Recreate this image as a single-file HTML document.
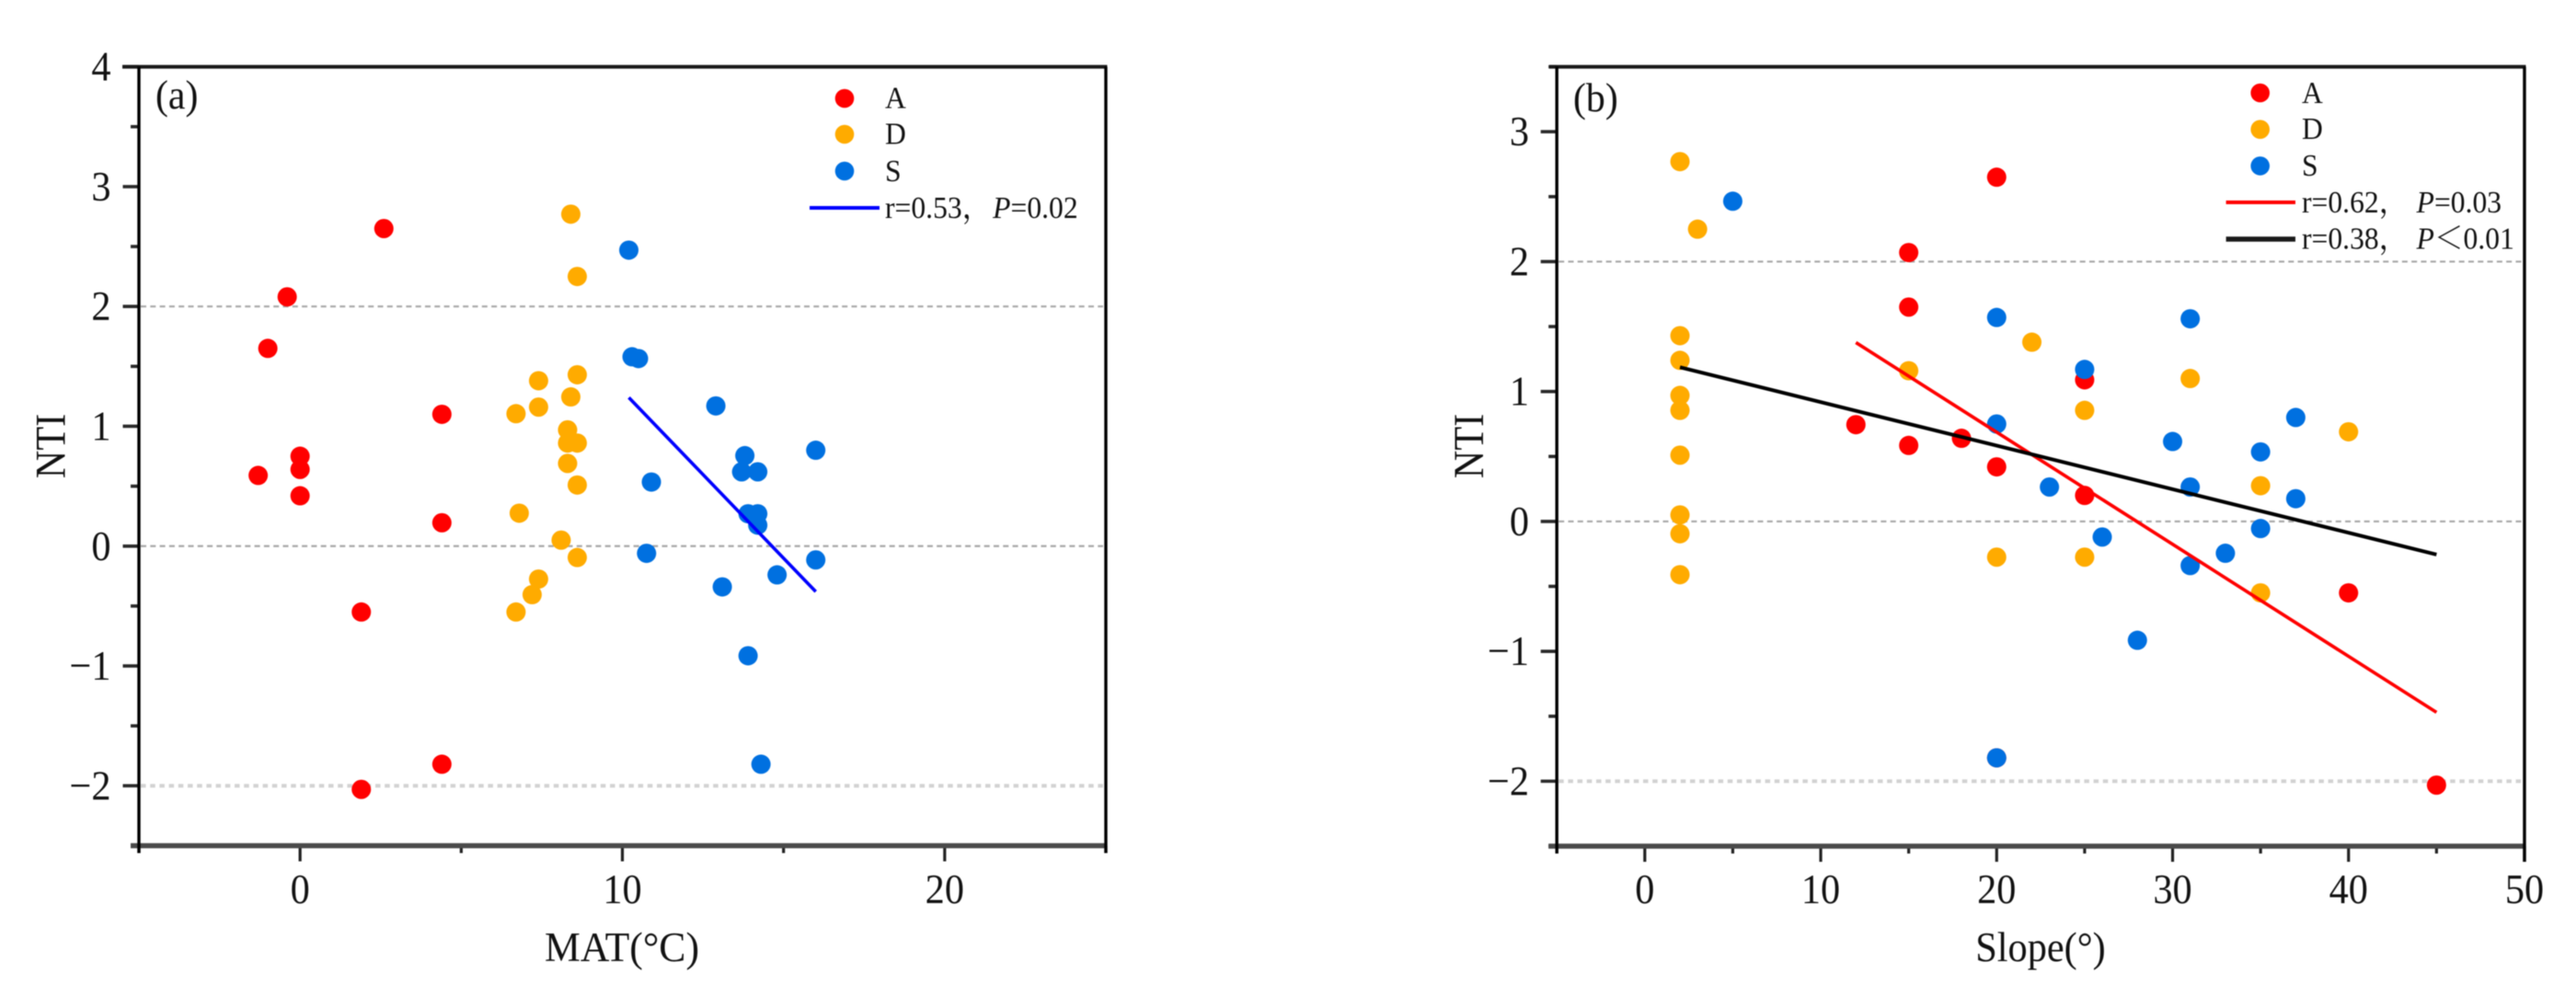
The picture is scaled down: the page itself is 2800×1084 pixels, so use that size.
<!DOCTYPE html>
<html lang="en">
<head>
<meta charset="utf-8">
<title>NTI versus MAT and Slope</title>
<style>
html,body{margin:0;padding:0;background:#fff;}
svg{display:block;filter:blur(.5px);}
text{font-family:"Liberation Serif","Noto Serif CJK SC",serif;fill:#111;}
</style>
</head>
<body>
<svg id="figure" width="2800" height="1084" viewBox="0 0 2800 1084" xmlns="http://www.w3.org/2000/svg">
  <rect width="2800" height="1084" fill="#fff"/>
  <g id="panel-a"></g>
  <g id="panel-b"></g>

  <g>
    <text transform="translate(169,118) scale(.95,1)" font-size="44">(a)</text>
    <text transform="translate(676,1045) scale(.95,1)" font-size="46" text-anchor="middle">MAT(°C)</text>
    <text transform="translate(70.5,485) rotate(-90) scale(.9,1)" font-size="47" text-anchor="middle">NTI</text>
    <g>
      <circle cx="918" cy="107" r="10.3" fill="#ff0000"/>
      <circle cx="918" cy="146" r="10.3" fill="#ffab00"/>
      <circle cx="918" cy="186" r="10.3" fill="#0070e0"/>
      <line x1="880" y1="226" x2="956" y2="226" stroke="#0000ff" stroke-width="4"/>
      <text transform="translate(962,117.5) scale(.93,1)" font-size="34">A</text>
      <text transform="translate(962,156.5) scale(.93,1)" font-size="34">D</text>
      <text transform="translate(962,197) scale(.93,1)" font-size="34">S</text>
      <text transform="translate(962,237) scale(.93,1)" font-size="34">r=0.53，<tspan x="126" font-style="italic">P</tspan>=0.02</text>
    </g>
  </g>

  <g>
    <text transform="translate(1710,121) scale(.95,1)" font-size="44">(b)</text>
    <text transform="translate(2218,1045) scale(.92,1)" font-size="46" text-anchor="middle">Slope(°)</text>
    <text transform="translate(1612,485) rotate(-90) scale(.9,1)" font-size="47" text-anchor="middle">NTI</text>
    <g>
      <circle cx="2456.7" cy="101" r="10.3" fill="#ff0000"/>
      <circle cx="2456.7" cy="140.7" r="10.3" fill="#ffab00"/>
      <circle cx="2456.7" cy="180.4" r="10.3" fill="#0070e0"/>
      <line x1="2419.6" y1="220" x2="2495" y2="220" stroke="#ff0000" stroke-width="4"/>
      <line x1="2419.6" y1="260" x2="2495" y2="260" stroke="#1a1a1a" stroke-width="5.5"/>
      <text transform="translate(2502,112) scale(.93,1)" font-size="34">A</text>
      <text transform="translate(2502,151) scale(.93,1)" font-size="34">D</text>
      <text transform="translate(2502,191) scale(.93,1)" font-size="34">S</text>
      <text transform="translate(2502,231) scale(.93,1)" font-size="34">r=0.62，<tspan x="134" font-style="italic">P</tspan>=0.03</text>
      <text transform="translate(2502,270.6) scale(.93,1)" font-size="34">r=0.38，<tspan x="134" font-style="italic">P</tspan>＜0.01</text>
    </g>
  </g>
</svg>

<script>
// Panel (a): MAT vs NTI
const matA = [2.6,-0.4,-1.0,4.4,0,0,-1.3,0,4.4,1.9,4.4,1.9];
const ntiMatA = [2.65,2.08,1.65,1.10,0.75,0.64,0.59,0.42,0.195,-0.55,-1.82,-2.03];
const matD = [8.4,8.6,8.6,7.4,8.4,7.4,6.7,8.3,8.3,8.6,8.3,8.6,6.8,8.1,8.6,7.4,7.2,6.7];
const ntiMatD = [2.77,2.25,1.43,1.38,1.245,1.16,1.105,0.97,0.86,0.86,0.69,0.51,0.275,0.05,-0.095,-0.275,-0.405,-0.55];
const matS = [10.2,10.3,10.5,12.9,16,13.8,13.7,14.2,10.9,13.9,14.2,14.2,10.75,16,14.8,13.1,13.9,14.3];
const ntiMatS = [2.47,1.58,1.565,1.17,0.80,0.755,0.62,0.62,0.535,0.27,0.27,0.175,-0.06,-0.115,-0.24,-0.34,-0.915,-1.82];
const fitMatX = [10.2,16];
const fitMatY = [1.24,-0.38];
const matTickValues = [-5,0,5,10,15,20,25];
const matTickLabels = ["","0","","10","","20",""];
const ntiMatTickValues = [-2.5,-2,-1.5,-1,-0.5,0,0.5,1,1.5,2,2.5,3,3.5,4];
const ntiMatTickLabels = ["","−2","","−1","","0","","1","","2","","3","","4"];

// Panel (b): Slope vs NTI
const slopeA = [20,15,15,25,12,18,15,20,25,40,20,45];
const ntiSlopeA = [2.65,2.07,1.65,1.09,0.745,0.64,0.585,0.42,0.2,-0.55,-1.82,-2.03];
const slopeD = [2,3,2,2,2,2,2,2,2,2,22,31,25,15,40,35,20,25,35];
const ntiSlopeD = [2.77,2.25,1.43,1.24,0.97,0.855,0.51,0.05,-0.095,-0.41,1.38,1.10,0.855,1.16,0.69,0.275,-0.275,-0.275,-0.55];
const slopeS = [5,20,31,25,37,20,30,35,23,31,37,35,26,33,31,28,20];
const ntiSlopeS = [2.465,1.57,1.56,1.17,0.80,0.75,0.615,0.535,0.265,0.265,0.175,-0.055,-0.12,-0.245,-0.34,-0.915,-1.82];
const fitRedX = [12,45];
const fitRedY = [1.377,-1.47];
const fitBlackX = [2,45];
const fitBlackY = [1.187,-0.255];
const slopeTickValues = [-5,0,5,10,15,20,25,30,35,40,45,50];
const slopeTickLabels = ["","0","","10","","20","","30","","40","","50"];
const ntiSlopeTickValues = [-2.5,-2,-1.5,-1,-0.5,0,0.5,1,1.5,2,2.5,3,3.5];
const ntiSlopeTickLabels = ["","−2","","−1","","0","","1","","2","","3",""];
const referenceLevels = [2,0,-2];

const NS = "http://www.w3.org/2000/svg";
const COLORS = {A:"#ff0000", D:"#ffab00", S:"#0070e0"};

function make(tag, attrs, parent){
  const el = document.createElementNS(NS, tag);
  for (const k in attrs) el.setAttribute(k, attrs[k]);
  parent.appendChild(el);
  return el;
}

function drawPanel(cfg){
  const g = document.getElementById(cfg.id);
  const sx = v => cfg.left + (v - cfg.xMin) * (cfg.right - cfg.left) / (cfg.xMax - cfg.xMin);
  const sy = v => cfg.bottom - (v - cfg.yMin) * (cfg.bottom - cfg.top) / (cfg.yMax - cfg.yMin);

  referenceLevels.forEach(function(level){
    const isLow = level === -2;
    const ln = make("line", {x1:cfg.left+2, x2:cfg.right-3, y1:sy(level), y2:sy(level),
      stroke:isLow?"#d2d2d2":"#a8a8a8", "stroke-width":isLow?4:2.2, "stroke-dasharray":isLow?"5.5 4.7":"6 4.3"}, g);
    
    
  });

  cfg.xTicks.forEach(function(v, i){
    const major = cfg.xLabels[i] !== "";
    const t = make("line", {x1:sx(v), x2:sx(v), y1:cfg.bottom, y2:cfg.bottom+(major?17:8),
      stroke:"#222", "stroke-width":3.2}, g);
    
    
    if (major){
      const lab = make("text", {transform:"translate("+sx(v)+",982) scale(.92,1)", "font-size":46, "text-anchor":"middle"}, g);
      lab.textContent = cfg.xLabels[i];
      
      
    }
  });

  cfg.yTicks.forEach(function(v, i){
    const major = cfg.yLabels[i] !== "";
    const t = make("line", {x1:cfg.left-(major?17.5:9), x2:cfg.left, y1:sy(v), y2:sy(v),
      stroke:"#2a2a2a", "stroke-width":3.6}, g);
    
    
    if (major){
      const lab = make("text", {transform:"translate("+cfg.yLabelX+","+(sy(v)+15)+") scale(.92,1)", "font-size":46, "text-anchor":"end"}, g);
      lab.textContent = cfg.yLabels[i];
      
      
    }
  });

  const topAxis = make("line", {x1:cfg.topStart, x2:cfg.right+1.5, y1:cfg.top, y2:cfg.top, stroke:"#1a1a1a", "stroke-width":4}, g);
  
  
  const bottomAxis = make("line", {x1:cfg.left-9, x2:cfg.right, y1:cfg.bottom, y2:cfg.bottom, stroke:"#4a4a4a", "stroke-width":5.5}, g);
  
  
  const leftAxis = make("line", {x1:cfg.left, x2:cfg.left, y1:cfg.top, y2:cfg.bottom+8, stroke:"#000", "stroke-width":3.4}, g);
  
  
  const rightAxis = make("line", {x1:cfg.right, x2:cfg.right, y1:cfg.top, y2:cfg.bottom+cfg.rightExt, stroke:"#000", "stroke-width":3.4}, g);
  
  

  cfg.series.forEach(function(s){
    s.x.forEach(function(xv, i){
      const c = make("circle", {cx:sx(xv), cy:sy(s.y[i]), r:10.5, fill:COLORS[s.key]}, g);
      
      
    });
  });

  cfg.fits.forEach(function(f){
    const l = make("line", {x1:sx(f.x[0]), y1:sy(f.y[0]), x2:sx(f.x[1]), y2:sy(f.y[1]), stroke:f.color, "stroke-width":f.w}, g);
    
    
  });
}

drawPanel({
  id:"panel-a", left:151, right:1202, top:72.6, bottom:919.5,
  xMin:-5, xMax:25, yMin:-2.5, yMax:4, yLabelX:120.5, topStart:133, rightExt:8,
  xTicks:matTickValues, xLabels:matTickLabels, yTicks:ntiMatTickValues, yLabels:ntiMatTickLabels,
  series:[{key:"A",x:matA,y:ntiMatA},{key:"D",x:matD,y:ntiMatD},{key:"S",x:matS,y:ntiMatS}],
  fits:[{x:fitMatX,y:fitMatY,color:"#0000ff",w:3.6}]
});

drawPanel({
  id:"panel-b", left:1692.2, right:2744, top:72.6, bottom:920,
  xMin:-5, xMax:50, yMin:-2.5, yMax:3.5, yLabelX:1662, topStart:1684, rightExt:17,
  xTicks:slopeTickValues, xLabels:slopeTickLabels, yTicks:ntiSlopeTickValues, yLabels:ntiSlopeTickLabels,
  series:[{key:"A",x:slopeA,y:ntiSlopeA},{key:"D",x:slopeD,y:ntiSlopeD},{key:"S",x:slopeS,y:ntiSlopeS}],
  fits:[{x:fitRedX,y:fitRedY,color:"#ff0000",w:3.6},{x:fitBlackX,y:fitBlackY,color:"#000",w:4}]
});
</script>
</body>
</html>
